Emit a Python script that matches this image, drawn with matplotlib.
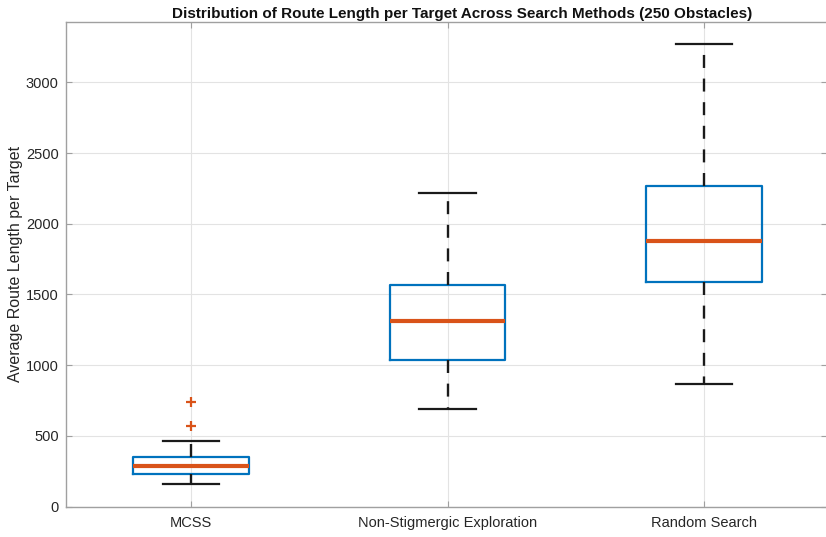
import matplotlib
matplotlib.use("Agg")
import matplotlib.pyplot as plt

# ---- data ----
methods = ["MCSS", "Non-Stigmergic Exploration", "Random Search"]
whisker_low = [156, 691, 866]
q1 = [230, 1036, 1588]
median = [288, 1314, 1880]
q3 = [347, 1566, 2269]
whisker_high = [465, 2215, 3274]
outliers = [[571, 739], [], []]

title = "Distribution of Route Length per Target Across Search Methods (250 Obstacles)"
ylabel = "Average Route Length per Target"
yticks = [0, 500, 1000, 1500, 2000, 2500, 3000]

plt.rcParams['font.family'] = ['Liberation Sans', 'DejaVu Sans']

fig = plt.figure(figsize=(8.26, 5.37), dpi=100)
left_px, right_px, top_px, bot_px = 65.7, 827.0, 22.0, 506.5
ax = fig.add_axes([left_px / 826, (537 - bot_px) / 537,
                   (right_px - left_px) / 826, (bot_px - top_px) / 537])

stats = []
for i, m in enumerate(methods):
    stats.append(dict(label=m, whislo=whisker_low[i], q1=q1[i], med=median[i],
                      q3=q3[i], whishi=whisker_high[i], fliers=outliers[i]))

blue = "#0072BD"
orange = "#D95319"
res = ax.bxp(stats, positions=[1, 2, 3], widths=0.45, showfliers=True,
             boxprops=dict(color=blue, linewidth=1.6),
             medianprops=dict(color=orange, linewidth=3.0, solid_capstyle='butt'),
             whiskerprops=dict(color="#1a1a1a", linewidth=1.7, linestyle=(0, (5.5, 4.5))),
             capprops=dict(color="#1a1a1a", linewidth=1.6),
             capwidths=0.22,
             flierprops=dict(marker='+', markeredgecolor=orange, markersize=7,
                             markeredgewidth=1.6, linestyle='none'),
             zorder=3)

ax.set_xlim(0.5115, 3.4795)
ax.set_ylim(0, 3428)
ax.set_yticks(yticks)
ax.set_yticklabels([str(v) for v in yticks])
ax.set_xticks([1, 2, 3])
ax.set_xticklabels(methods)

ax.grid(True, color="#e3e3e3", linewidth=0.8, zorder=0)
ax.set_axisbelow(True)
for s in ax.spines.values():
    s.set_color("#a0a0a0")
    s.set_linewidth(1.0)
ax.tick_params(direction='in', length=4, width=0.8, color="#a0a0a0",
               labelsize=10.5, labelcolor="#262626", pad=5, top=True, right=True)
ax.tick_params(axis='x', pad=7)

ax.set_title(title, fontsize=11, fontweight='bold', color="#111111", pad=3,
             x=(462 - left_px) / (right_px - left_px))
ax.set_ylabel(ylabel, fontsize=11.5, color="#262626", labelpad=2)

fig.savefig("out.png", dpi=100)
